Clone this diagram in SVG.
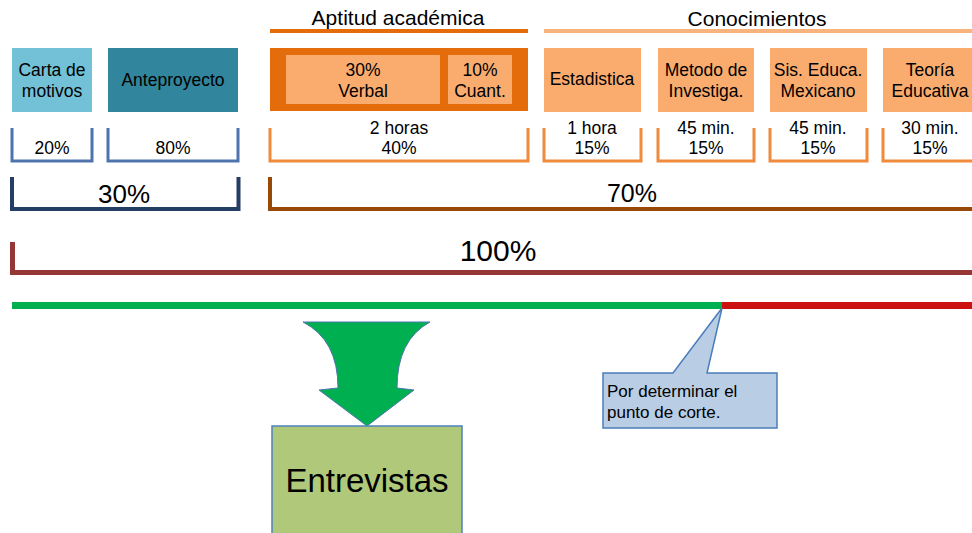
<svg xmlns="http://www.w3.org/2000/svg" width="972" height="533" viewBox="0 0 972 533">
<style>
text{font-family:"Liberation Sans",Arial,sans-serif;fill:#000;text-anchor:middle}
.t17{font-size:17.5px}
.hdr{font-size:21px}
.br{fill:none;stroke-width:3}
.blue{stroke:#4F74AD}
.or{stroke:#F08A3C}
.kb{fill:#FAAC6F}
</style>
<rect width="972" height="533" fill="#fff"/>
<g id="headers">
<text class="hdr" x="398" y="25">Aptitud académica</text>
<line x1="270" y1="31" x2="528" y2="31" stroke="#E46C0A" stroke-width="4"/>
<text class="hdr" x="757" y="26">Conocimientos</text>
<line x1="544" y1="31" x2="972" y2="31" stroke="#F9B47E" stroke-width="4"/>
</g>
<g id="carta">
<rect x="12" y="48" width="80" height="64" fill="#72C1D6"/>
<text class="t17" x="52" y="76">Carta de</text>
<text class="t17" x="52" y="97">motivos</text>
<path class="br blue" d="M12,128V161H92V128"/>
<text class="t17" x="52" y="154">20%</text>
</g>
<g id="anteproyecto">
<rect x="108" y="48" width="130" height="64" fill="#31859C"/>
<text class="t17" x="173" y="86">Anteproyecto</text>
<path class="br blue" d="M108,128V161H238V128"/>
<text class="t17" x="173" y="154">80%</text>
</g>
<g id="aptitud">
<rect x="270" y="48" width="258" height="63" fill="#E46C0A"/>
<rect x="286" y="55" width="154" height="49" class="kb"/>
<rect x="448" y="55" width="64" height="49" class="kb"/>
<text class="t17" x="363" y="76">30%</text>
<text class="t17" x="363" y="97">Verbal</text>
<text class="t17" x="480" y="76">10%</text>
<text class="t17" x="480" y="97">Cuant.</text>
<path class="br or" d="M270,128V161H528V128"/>
<text class="t17" x="399" y="134">2 horas</text>
<text class="t17" x="399" y="154">40%</text>
</g>
<g id="estadistica">
<rect x="544" y="48" width="97" height="64" class="kb"/>
<text class="t17" x="592" y="85">Estadistica</text>
<path class="br or" d="M544,128V161H641V128"/>
<text class="t17" x="592" y="134">1 hora</text>
<text class="t17" x="592" y="154">15%</text>
</g>
<g id="metodo">
<rect x="658" y="48" width="96" height="64" class="kb"/>
<text class="t17" x="706" y="76">Metodo de</text>
<text class="t17" x="706" y="97">Investiga.</text>
<path class="br or" d="M658,128V161H754V128"/>
<text class="t17" x="706" y="134">45 min.</text>
<text class="t17" x="706" y="154">15%</text>
</g>
<g id="sis">
<rect x="770" y="48" width="97" height="64" class="kb"/>
<text class="t17" x="818" y="76">Sis. Educa.</text>
<text class="t17" x="818" y="97">Mexicano</text>
<path class="br or" d="M770,128V161H867V128"/>
<text class="t17" x="818" y="134">45 min.</text>
<text class="t17" x="818" y="154">15%</text>
</g>
<g id="teoria">
<rect x="883" y="48" width="100" height="64" class="kb"/>
<text class="t17" x="930" y="76">Teoría</text>
<text class="t17" x="930" y="97">Educativa</text>
<path class="br or" d="M883,128V161H980"/>
<text class="t17" x="930" y="134">30 min.</text>
<text class="t17" x="930" y="154">15%</text>
</g>
<g id="totals">
<path d="M12,177V209H238.5V177" fill="none" stroke="#243F63" stroke-width="4"/>
<text x="124" y="203" style="font-size:26px">30%</text>
<path d="M270,177V209H980" fill="none" stroke="#984807" stroke-width="4"/>
<text x="632" y="202" style="font-size:25px">70%</text>
<path d="M12.5,242V272.5H980" fill="none" stroke="#953735" stroke-width="5"/>
<text x="498" y="261" style="font-size:30px">100%</text>
</g>
<g id="connectors">
<line x1="12" y1="305.5" x2="722" y2="305.5" stroke="#00B050" stroke-width="7"/>
<line x1="722" y1="305.5" x2="980" y2="305.5" stroke="#CC1111" stroke-width="7"/>
<path d="M303,322L430,322Q397,340 397,388L414,390L367,426L319,390L338,388Q338,340 303,322Z" fill="#00B050" stroke="#4F74AD" stroke-width="1"/>
</g>
<g id="entrevistas">
<rect x="272" y="426" width="190" height="120" fill="#AFC87A" stroke="#4F81BD" stroke-width="1.5"/>
<text x="367" y="492" style="font-size:33px">Entrevistas</text>
</g>
<g id="callout">
<path d="M603,373L673,373L722,308L707,373L777,373L777,428L603,428Z" fill="#B9CDE5" stroke="#4A7EBB" stroke-width="1.5"/>
<text x="607" y="397" style="text-anchor:start;font-size:17px">Por determinar el</text>
<text x="607" y="418" style="text-anchor:start;font-size:17px">punto de corte.</text>
</g>
</svg>
